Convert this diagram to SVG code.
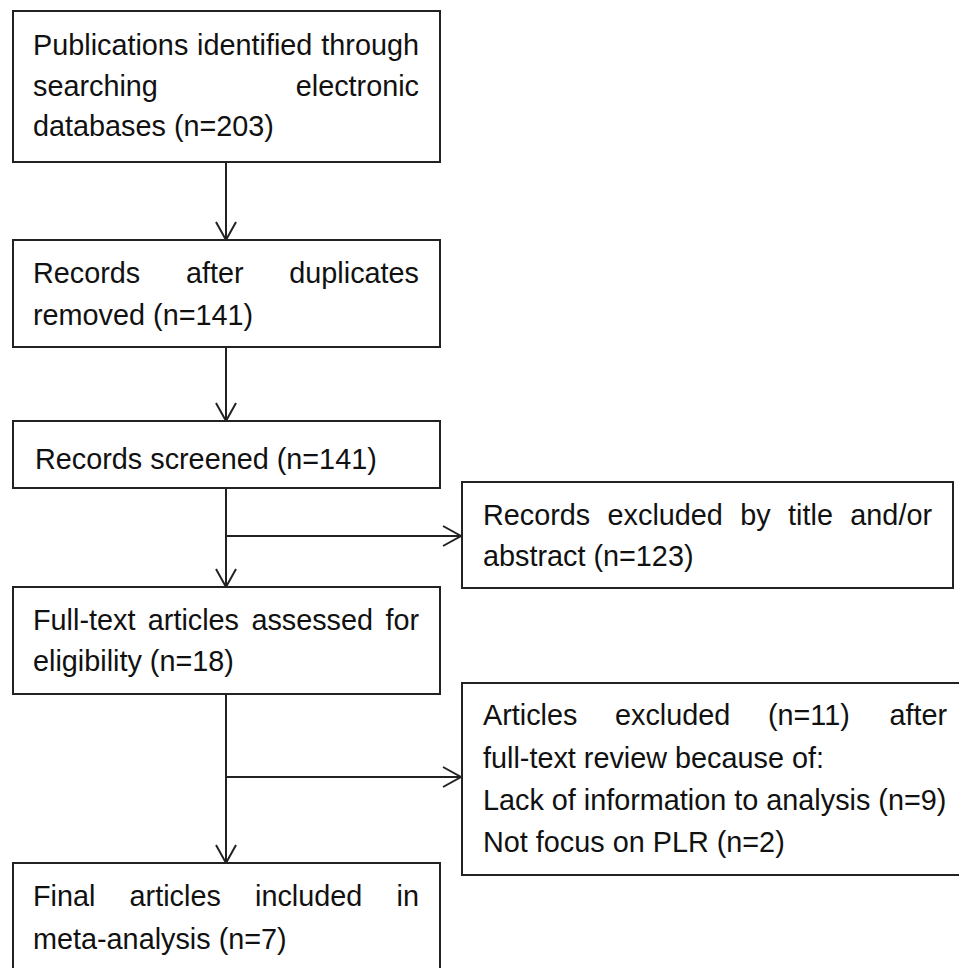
<svg xmlns="http://www.w3.org/2000/svg" width="959" height="968" viewBox="0 0 959 968">
<style>
.box{fill:#fff;stroke:#222;stroke-width:2}
.t{font-family:"Liberation Sans",Arial,sans-serif;font-size:28.8px;fill:#111}
.c{fill:none;stroke:#222;stroke-width:2}
</style>
<defs>
<marker id="arr" markerUnits="userSpaceOnUse" markerWidth="20" markerHeight="24" refX="18" refY="11" orient="auto" overflow="visible">
<path d="M0,1 L18,11 L0,21" fill="none" stroke="#222" stroke-width="2"/>
</marker>
</defs>
<rect width="959" height="968" fill="#fff"/>
<g id="connectors">
<line class="c" x1="226" y1="162" x2="226" y2="240" marker-end="url(#arr)"/>
<line class="c" x1="226" y1="347" x2="226" y2="421" marker-end="url(#arr)"/>
<line class="c" x1="226" y1="488" x2="226" y2="587" marker-end="url(#arr)"/>
<line class="c" x1="226" y1="536" x2="461" y2="536" marker-end="url(#arr)"/>
<line class="c" x1="226" y1="694" x2="226" y2="863" marker-end="url(#arr)"/>
<line class="c" x1="226" y1="777" x2="461" y2="777" marker-end="url(#arr)"/>
</g>
<g id="n1">
<rect class="box" x="13" y="11" width="427" height="151"/>
<text class="t" y="55"><tspan x="33">Publications</tspan><tspan x="197.1">identified</tspan><tspan x="419" text-anchor="end">through</tspan></text>
<text class="t" y="95.5"><tspan x="33">searching</tspan><tspan x="419" text-anchor="end">electronic</tspan></text>
<text class="t" x="33" y="136">databases (n=203)</text>
</g>
<g id="n2">
<rect class="box" x="13" y="240" width="427" height="107"/>
<text class="t" y="283"><tspan x="33">Records</tspan><tspan x="185.9">after</tspan><tspan x="419" text-anchor="end">duplicates</tspan></text>
<text class="t" x="33" y="325">removed (n=141)</text>
</g>
<g id="n3">
<rect class="box" x="13" y="421" width="427" height="67"/>
<text class="t" x="35" y="469">Records screened (n=141)</text>
</g>
<g id="n4">
<rect class="box" x="462" y="482" width="491" height="106"/>
<text class="t" y="525"><tspan x="483">Records</tspan><tspan x="607.6">excluded</tspan><tspan x="740.3">by</tspan><tspan x="788.1">title</tspan><tspan x="932" text-anchor="end">and/or</tspan></text>
<text class="t" x="483" y="566">abstract (n=123)</text>
</g>
<g id="n5">
<rect class="box" x="13" y="587" width="427" height="107"/>
<text class="t" y="630"><tspan x="33">Full-text</tspan><tspan x="147.8">articles</tspan><tspan x="251.4">assessed</tspan><tspan x="419" text-anchor="end">for</tspan></text>
<text class="t" x="33" y="671">eligibility (n=18)</text>
</g>
<g id="n6">
<rect class="box" x="462" y="683" width="510" height="192"/>
<text class="t" y="725"><tspan x="483">Articles</tspan><tspan x="615">excluded</tspan><tspan x="767.9">(n=11)</tspan><tspan x="947" text-anchor="end">after</tspan></text>
<text class="t" x="483" y="768">full-text review because of:</text>
<text class="t" x="483" y="810">Lack of information to analysis (n=9)</text>
<text class="t" x="483" y="852">Not focus on PLR (n=2)</text>
</g>
<g id="n7">
<rect class="box" x="13" y="863" width="427" height="115"/>
<text class="t" y="906"><tspan x="33">Final</tspan><tspan x="129.6">articles</tspan><tspan x="255">included</tspan><tspan x="419" text-anchor="end">in</tspan></text>
<text class="t" x="33" y="949">meta-analysis (n=7)</text>
</g>
</svg>
